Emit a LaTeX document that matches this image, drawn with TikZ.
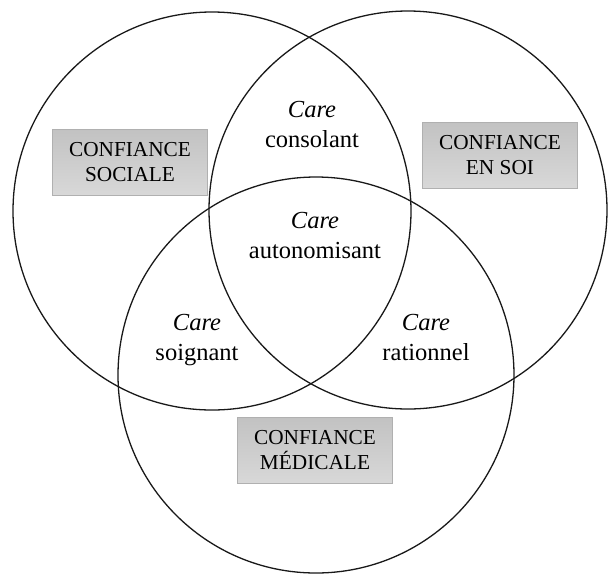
\documentclass[tikz,border=0pt]{standalone}
\usepackage{fontspec}
\setmainfont{Liberation Serif}
\definecolor{boxtop}{RGB}{194,194,194}
\definecolor{boxbot}{RGB}{216,216,216}
\definecolor{boxline}{RGB}{176,176,176}
\tikzset{
  x=1pt, y=-1pt,
  ring/.style={line width=1.3pt, draw=black!90},
  trustbox/.style={rectangle, draw=boxline, line width=0.6pt,
    top color=boxtop, bottom color=boxbot,
    minimum width=155pt, minimum height=66pt, inner sep=0pt,
    align=center, font=\fontsize{21.3}{25}\selectfont},
  carelabel/.style={anchor=base, align=center, inner sep=0pt,
    font=\fontsize{24.5}{30}\selectfont}
}
\begin{document}
\begin{tikzpicture}
\useasboundingbox (0,0) rectangle (608,574);
% three overlapping circles
\draw[ring] (212,211) circle[radius=199];
\draw[ring] (408,210) circle[radius=199];
\draw[ring] (316,375) circle[radius=198];
% grey title boxes
\node[trustbox] (sociale) at (130,162) {CONFIANCE\\SOCIALE};
\node[trustbox] (soi) at (500,155) {CONFIANCE\\EN SOI};
\node[trustbox] (medicale) at (315,450) {CONFIANCE\\MÉDICALE};
% labels of the overlaps (anchored on the baseline of the last line)
\node[carelabel] (consolant) at (312,147) {\textit{Care}\\consolant};
\node[carelabel] (autonomisant) at (315,258) {\textit{Care}\\autonomisant};
\node[carelabel] (soignant) at (197,360) {\textit{Care}\\soignant};
\node[carelabel] (rationnel) at (426,360) {\textit{Care}\\rationnel};
\end{tikzpicture}
\end{document}
